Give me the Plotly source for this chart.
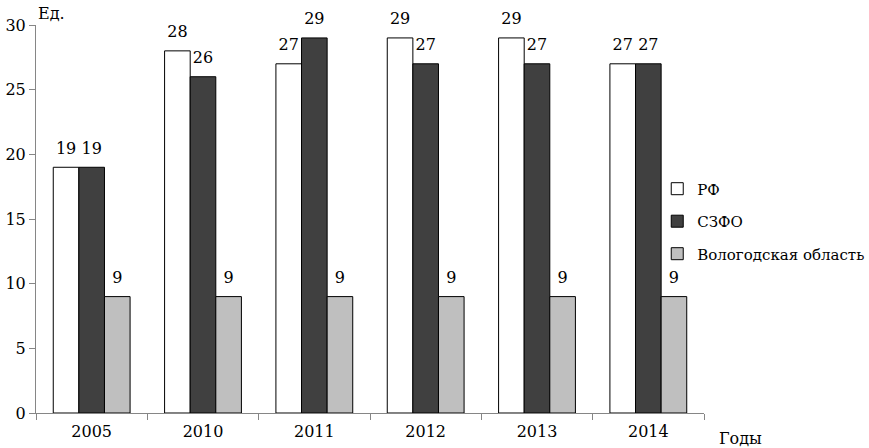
import plotly.graph_objects as go

years = ["2005", "2010", "2011", "2012", "2013", "2014"]
rf = [19, 28, 27, 29, 29, 27]
szfo = [19, 26, 29, 27, 27, 27]
vologda = [9, 9, 9, 9, 9, 9]

names = ["РФ", "СЗФО", "Вологодская область"]
colors = ["#ffffff", "#404040", "#bfbfbf"]
series = [rf, szfo, vologda]

FONT = "DejaVu Serif"
fig = go.Figure()
for i, (n, c, s) in enumerate(zip(names, colors, series)):
    fig.add_trace(go.Bar(
        x=years, y=s, name=n, marker=dict(color=c, line=dict(color="#000000", width=1)),
        legendgroup=f"g{i}", offsetgroup=f"o{i}",
    ))
for i, (n, s) in enumerate(zip(names, series)):
    fig.add_trace(go.Scatter(
        x=years, y=s, mode="markers+text", text=[str(v) for v in s],
        textposition="top center", cliponaxis=False, showlegend=False, hoverinfo="skip",
        marker=dict(size=14, color="rgba(0,0,0,0)"), offsetgroup=f"o{i}",
        textfont=dict(family=FONT, size=16, color="#000"),
    ))

fig.update_layout(
    width=869, height=448,
    margin=dict(l=36, r=165, t=25, b=35, autoexpand=False),
    paper_bgcolor="white", plot_bgcolor="white",
    barmode="group", bargap=0.31, bargroupgap=0,
    scattermode="group", scattergap=0.31,
    font=dict(family=FONT, size=16, color="#000"),
    showlegend=True,
    legend=dict(x=0.93, y=0.62, xanchor="left", yanchor="top", tracegroupgap=10,
                font=dict(family=FONT, size=15), itemwidth=30, bgcolor="rgba(0,0,0,0)"),
    xaxis=dict(showline=True, linecolor="#868686", ticks="outside", tickson="boundaries",
               ticklen=6, tickcolor="#868686", showgrid=False, range=[-0.5, 5.5],
               ticklabelstandoff=4, tickfont=dict(family=FONT, size=16)),
    yaxis=dict(range=[0, 30], dtick=5, showline=True, linecolor="#868686", ticks="outside",
               ticklen=6, tickcolor="#868686", showgrid=False, zeroline=False,
               tickfont=dict(family=FONT, size=16)),
    annotations=[
        dict(text="Ед.", xref="paper", yref="paper", x=0.0, y=1.0, xanchor="left", yanchor="bottom",
             showarrow=False, font=dict(family=FONT, size=16)),
        dict(text="Годы", xref="paper", yref="paper", x=1.02, y=0, xanchor="left", yanchor="middle",
             yshift=-25, showarrow=False, font=dict(family=FONT, size=16)),
    ],
)
fig.write_html("out.html", config={"displayModeBar": False},
               post_script="document.body.style.margin='0';")
